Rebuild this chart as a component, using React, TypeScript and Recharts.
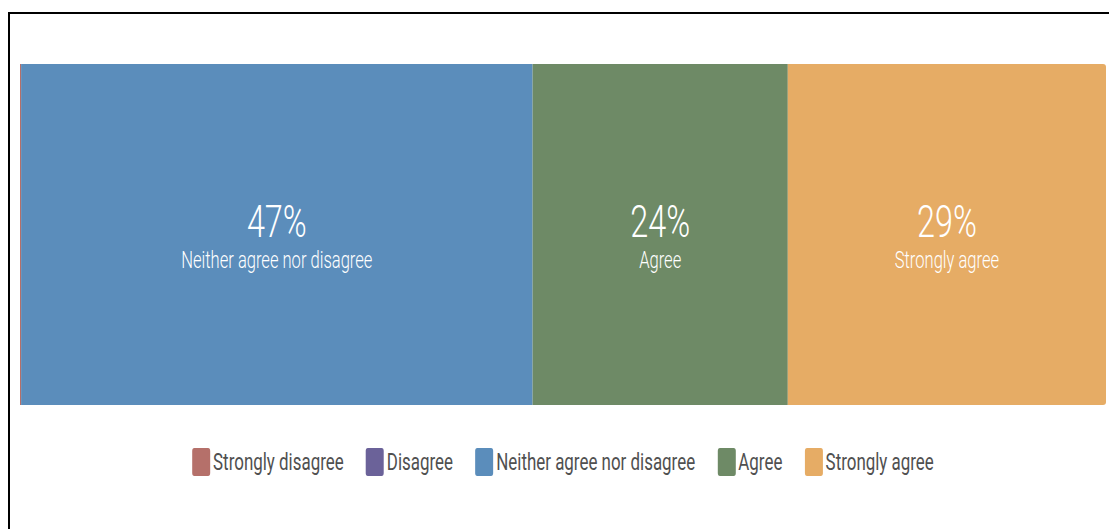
import React from 'react';
import { BarChart, Bar, XAxis, YAxis, Legend, LabelList } from 'recharts';

const categories = ['Strongly disagree', 'Disagree', 'Neither agree nor disagree', 'Agree', 'Strongly agree'];
const values = [0.1, 0, 47.1, 23.5, 29.3];
const colors = ['#b5706a', '#6b6299', '#5b8dbb', '#6e8a66', '#e6ac65'];

const row: Record<string, number | string> = { name: 'Responses' };
categories.forEach((c, i) => {
  row[c] = values[i];
});
const data = [row];
const total = values.reduce((a, b) => a + b, 0);

const FONT = 'Roboto, "Noto Sans", sans-serif';
const SQUEEZE = 0.72; // fake a condensed face

const makeLabel = (title: string) => (props: any) => {
  const { x, y, width, height, value } = props;
  if (!value || value < 5) return null;
  const cx = x + width / 2;
  const cy = y + height / 2;
  const tf = `translate(${cx},0) scale(${SQUEEZE},1) translate(${-cx},0)`;
  return (
    <g transform={tf}>
      <text x={cx} y={cy - 12} textAnchor="middle" dominantBaseline="central" fill="#fff"
        style={{ fontFamily: FONT, fontSize: 45, fontWeight: 300 }}>
        {Math.round(value)}%
      </text>
      <text x={cx} y={cy + 25} textAnchor="middle" dominantBaseline="central" fill="#fff"
        style={{ fontFamily: FONT, fontSize: 23, fontWeight: 300 }}>
        {title}
      </text>
    </g>
  );
};

const LegendContent = () => (
  <div style={{ height: 124, boxSizing: 'border-box', display: 'flex', justifyContent: 'center', alignItems: 'flex-start' }}>
    <div style={{ display: 'flex', position: 'relative', top: 43, height: 28, transform: `scaleX(${SQUEEZE})`, transformOrigin: 'center', fontFamily: FONT, whiteSpace: 'nowrap' }}>
      {categories.map((c, i) => (
        <div key={c} style={{ display: 'flex', alignItems: 'center', marginLeft: i === 0 ? 0 : 31 }}>
          <span style={{ display: 'inline-block', width: 25, height: 28, background: colors[i], borderRadius: 3, marginRight: 4 }} />
          <span style={{ fontSize: 23.5, lineHeight: '28px', color: '#505050' }}>{c}</span>
        </div>
      ))}
    </div>
  </div>
);

export default function App() {
  return (
    <div style={{ position: 'absolute', left: 8, top: 12, width: 1101, height: 517, borderTop: '2px solid #000', borderLeft: '2px solid #000', background: '#fff' }}>
      <BarChart width={1099} height={515} data={data} layout="vertical" barCategoryGap={0}
        margin={{ top: 50, right: 3, bottom: 0, left: 10 }}>
        <XAxis type="number" hide domain={[0, total]} />
        <YAxis type="category" dataKey="name" hide />
        <Legend verticalAlign="bottom" content={<LegendContent />} />
        {categories.map((c, i) => (
          <Bar key={c} dataKey={c} stackId="a" fill={colors[i]} isAnimationActive={false}
            radius={i === categories.length - 1 ? [0, 3, 3, 0] : 0}>
            <LabelList dataKey={c} content={makeLabel(c)} />
          </Bar>
        ))}
      </BarChart>
    </div>
  );
}
